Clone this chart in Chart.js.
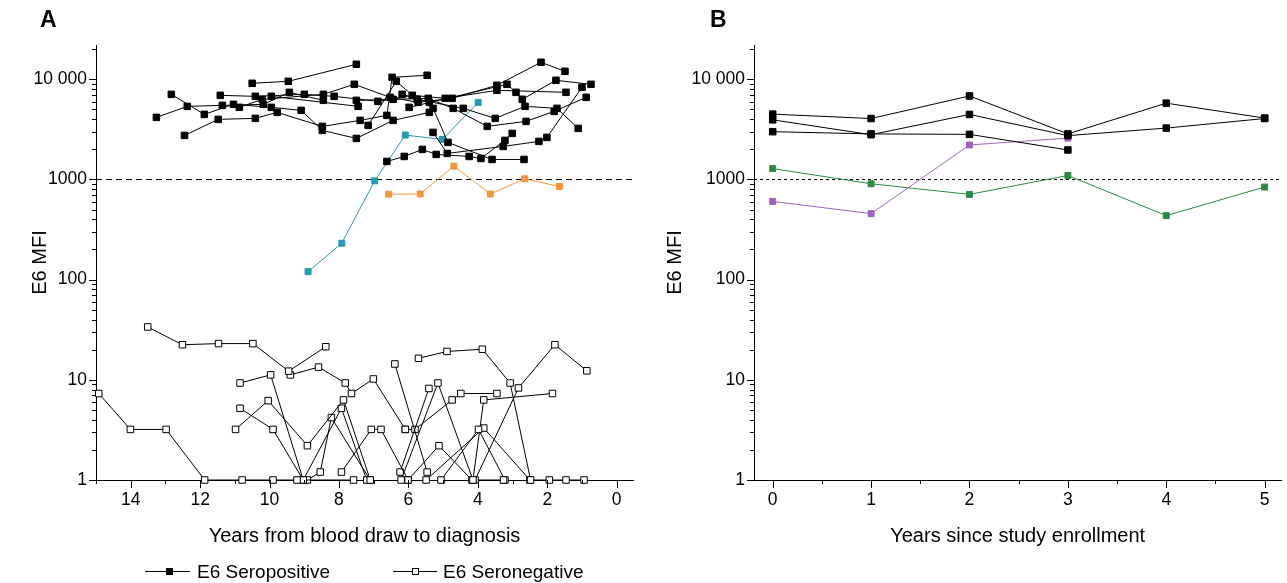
<!DOCTYPE html>
<html>
<head>
<meta charset="utf-8">
<script src="https://cdn.jsdelivr.net/npm/chart.js@4/dist/chart.umd.min.js"></script>
<style>
  body { margin: 0; background: #fff; font-family: Arial, "Liberation Sans", sans-serif; }
  #wrap { position: relative; width: 1287px; height: 583px; overflow: hidden; }
  canvas { position: absolute; top: 0; }
  .panel { position: absolute; top: 6px; font-weight: bold; font-size: 23px; }
  .leg-line { position: absolute; top: 571px; height: 0; border-top: 1px solid #000; }
  .leg-box { position: absolute; top: 568px; width: 7px; height: 7px; box-sizing: border-box; border: 1px solid #000; }
  .leg-text { position: absolute; top: 560px; font-size: 19px; line-height: 24px; }
</style>
</head>
<body>
<div id="wrap">
  <canvas id="chartA" width="640" height="583" style="left:0"></canvas>
  <canvas id="chartB" width="647" height="583" style="left:640px"></canvas>
  <div class="panel" style="left:40px">A</div>
  <div class="panel" style="left:710px">B</div>
  <div class="leg-line" style="left:145px;width:45px"></div>
  <div class="leg-box" style="left:166px;background:#000"></div>
  <div class="leg-text" style="left:197px">E6 Seropositive</div>
  <div class="leg-line" style="left:393px;width:44px"></div>
  <div class="leg-box" style="left:412px;background:#fff"></div>
  <div class="leg-text" style="left:443px">E6 Seronegative</div>
</div>
<script>
'use strict';

// ---- panel A: [years before diagnosis, E6 MFI] ----
const pos01 = [[13.26,4169],[12.37,5370],[11.36,5495],[10.18,5623],[9.43,7413],[8.45,6166]];
const pos02 = [[12.83,7079],[11.88,4467],[11.04,5623],[9.95,5248],[9.09,4898],[8.48,3090],[7.50,2570],[6.44,3890],[5.40,4677]];
const pos03 = [[12.45,2754],[11.48,3981],[10.41,4074],[9.78,4677],[8.48,3388],[7.39,3890],[6.62,4365],[6.47,10470],[5.46,10965]];
const pos04 = [[11.42,6918],[10.41,6761],[9.00,7079],[8.14,6761],[6.88,6026],[5.89,6918],[4.94,6457],[3.45,7762],[1.46,7413]];
const pos05 = [[10.50,9120],[9.46,9550],[7.50,14125]];
const pos06 = [[10.87,5248],[10.21,6310],[8.45,7079],[7.56,8913],[6.53,6607],[5.72,5888],[4.74,6457],[3.45,8710],[2.18,14790],[1.49,12020]];
const pos07 = [[7.50,6166],[6.44,6310],[5.43,6457],[4.71,5129],[3.73,3388],[2.61,3802],[1.80,4786],[0.88,6607]];
const pos08 = [[7.16,3467],[6.35,9550],[5.75,6310],[4.42,5129],[3.50,4074],[2.64,5370],[1.72,5129],[1.11,3236]];
const pos09 = [[6.62,1514],[6.12,1698],[5.60,1995],[5.20,1778],[4.25,1698],[3.91,1622],[3.22,2455],[3.01,2884]];
const pos10 = [[6.18,7079],[5.40,5888],[5.29,5129],[4.86,2344],[3.59,1585],[2.67,1585]];
const pos11 = [[5.29,2951],[4.88,1820],[3.27,2138],[2.24,2399],[2.01,2630],[1.00,8318]];
const pos12 = [[5.98,5248],[3.16,8913],[2.90,7413],[2.72,6310],[1.75,9772],[0.74,8913]];
const pos13 = [[9.95,6761],[7.45,5370]];
const tealA = [[8.89,120],[7.92,231],[6.97,970],[6.09,2775],[5.02,2512],[3.99,5890]];
const orangeA = [[6.57,713],[5.66,716],[4.69,1358],[3.64,716],[2.65,1016],[1.65,851]];

const neg01 = [[14.92,7.3],[14.01,3.2],[12.98,3.2],[11.87,1],[10.79,1],[9.90,1],[9.21,1]];
const neg02 = [[13.51,33.7],[12.51,22.4],[11.47,23],[10.48,23],[9.45,12.2],[8.38,21.4]];
const neg03 = [[10.85,9.3],[9.97,11.2],[9.03,1],[7.58,1]];
const neg04 = [[9.40,11.2],[8.59,13.4],[7.82,9.3],[7.64,7.3],[7.01,10.2],[6.09,3.2]];
const neg05 = [[10.98,3.2],[10.04,6.2],[8.91,2.2],[7.87,6.3],[7.10,1]];
const neg06 = [[10.85,5.2],[9.90,3.2],[9.03,1],[7.93,5.2],[7.20,1]];
const neg07 = [[8.91,1],[8.54,1.2],[8.22,4.2],[7.10,1]];
const neg08 = [[7.93,1.2],[7.07,3.2],[6.79,3.2],[6.01,1]];
const neg09 = [[6.39,14.4],[5.46,1.2]];
const neg10 = [[6.24,1.2],[5.41,8.2]];
const neg11 = [[6.21,1],[5.15,9.3],[4.14,1]];
const neg12 = [[6.09,3.2],[5.81,3.2],[4.74,6.3],[4.49,7.3],[3.45,7.3]];
const neg13 = [[5.71,16.4],[4.89,19.2],[3.87,20.2],[3.07,9.3],[2.48,1]];
const neg14 = [[4.08,1],[2.83,8.3],[1.78,22.4],[0.86,12.3]];
const neg15 = [[6.01,1],[5.12,2.2],[4.17,1],[3.26,1]];
const neg16 = [[5.06,1],[3.98,3.2],[3.22,1]];
const neg17 = [[5.49,1],[3.83,3.3],[2.50,1],[1.94,1],[1.46,1],[0.94,1]];
const neg18 = [[4.14,1],[3.83,6.3],[1.85,7.3]];

const positiveA = [pos01, pos02, pos03, pos04, pos05, pos06, pos07, pos08, pos09, pos10, pos11, pos12, pos13];
const negativeA = [neg01, neg02, neg03, neg04, neg05, neg06, neg07, neg08, neg09, neg10, neg11, neg12, neg13, neg14, neg15, neg16, neg17, neg18];

// ---- panel B: years since enrollment ----
const yearsB = [0, 1, 2, 3, 4, 5];
const blackB1 = [4490, 4060, 6820, 2850, 5780, 4100];
const blackB2 = [3940, 2800, 4460, 2740, 3260, 4060];
const blackB3 = [3000, 2850, 2820, 1970];
const purpleB = [604, 456, 2210, 2590];
const greenB = [1285, 906, 710, 1096, 436, 840];

// ---- axes ----
const cutoff = 1000;
const yLabels = [1, 10, 100, 1000, 10000];
const yMinor = [2,3,4,5,6,7,8,9,20,30,40,50,60,70,80,90,200,300,400,500,600,700,800,900,
  2000,3000,4000,5000,6000,7000,8000,9000,20000];
const xLabelsA = [14, 12, 10, 8, 6, 4, 2, 0];
const xMinorA = [15, 13, 11, 9, 7, 5, 3, 1];
const xLabelsB = [0, 1, 2, 3, 4, 5];
const xMinorB = [0.5, 1.5, 2.5, 3.5, 4.5];

Chart.defaults.font.family = 'Arial, "Liberation Sans", sans-serif';
Chart.defaults.color = '#000';

function series(points, color, fill, r) {
  return {
    data: points.map(p => ({ x: p[0], y: p[1] })),
    borderColor: color,
    backgroundColor: fill,
    pointBackgroundColor: fill,
    pointBorderColor: color,
    pointStyle: 'rect',
    pointRadius: r,
    pointBorderWidth: 1,
    borderWidth: 1,
    tension: 0,
    clip: false
  };
}

function pairs(xs, ys) {
  return ys.map((v, i) => [xs[i], v]);
}

// small ticks drawn outside the axes, minor ones shorter
const axisTicks = {
  id: 'axisTicks',
  afterDraw(chart, args, opts) {
    const ctx = chart.ctx;
    const a = chart.chartArea;
    const xs = chart.scales.x;
    const ys = chart.scales.y;
    ctx.save();
    ctx.strokeStyle = '#000';
    ctx.lineWidth = 1;
    ctx.beginPath();
    const xt = (v, len) => {
      const p = Math.round(xs.getPixelForValue(v)) + 0.5;
      ctx.moveTo(p, a.bottom); ctx.lineTo(p, a.bottom + len);
    };
    const yt = (v, len) => {
      const p = Math.round(ys.getPixelForValue(v)) + 0.5;
      ctx.moveTo(a.left, p); ctx.lineTo(a.left - len, p);
    };
    opts.xMajor.forEach(v => xt(v, 8));
    opts.xMinor.forEach(v => xt(v, 4));
    yLabels.forEach(v => yt(v, 7));
    yMinor.forEach(v => { if (v <= ys.max) yt(v, 4); });
    ctx.stroke();
    ctx.restore();
  }
};

const cutoffLine = {
  id: 'cutoffLine',
  beforeDatasetsDraw(chart, args, opts) {
    const ctx = chart.ctx;
    const a = chart.chartArea;
    const y = Math.round(chart.scales.y.getPixelForValue(cutoff)) + 0.5;
    ctx.save();
    ctx.strokeStyle = '#000';
    ctx.lineWidth = 1;
    ctx.setLineDash(opts.dash);
    ctx.beginPath();
    ctx.moveTo(a.left, y);
    ctx.lineTo(a.right, y);
    ctx.stroke();
    ctx.restore();
  }
};

function yAxis(width) {
  return {
    type: 'logarithmic',
    min: 1,
    max: 22000,
    border: { display: true, color: '#000', width: 1 },
    grid: { display: false, drawTicks: false },
    afterBuildTicks: s => { s.ticks = yLabels.map(v => ({ value: v })); },
    afterFit: s => { s.width = width; },
    ticks: {
      padding: 9,
      font: { size: 17.5 },
      callback: v => v === 10000 ? '10 000' : String(v)
    },
    title: { display: true, text: 'E6 MFI', font: { size: 20 }, padding: { top: 3, bottom: 4 } }
  };
}

function xAxis(min, max, labels, title, reverse) {
  return {
    type: 'linear',
    min: min,
    max: max,
    reverse: reverse,
    border: { display: true, color: '#000', width: 1 },
    grid: { display: false, drawTicks: false },
    afterBuildTicks: s => { s.ticks = labels.map(v => ({ value: v })); },
    afterFit: s => { s.height = 103; },
    ticks: { padding: 10, font: { size: 17.5 }, maxRotation: 0, autoSkip: false },
    title: { display: true, text: title, font: { size: 20 }, padding: { top: 4, bottom: 35 } }
  };
}

const black = '#000';
const dsA = [];
positiveA.forEach(p => dsA.push(series(p, black, black, 4.6)));
dsA.push(series(tealA, '#2499b5', '#2499b5', 4.2));
dsA.push(series(orangeA, '#f7953b', '#f7953b', 4.2));
negativeA.forEach(p => dsA.push(series(p, black, '#fff', 4.6)));

new Chart(document.getElementById('chartA'), {
  type: 'line',
  data: { datasets: dsA },
  plugins: [axisTicks, cutoffLine],
  options: {
    responsive: false,
    animation: false,
    devicePixelRatio: 1,
    layout: { padding: { left: 25, top: 45, right: 7, bottom: 0 } },
    plugins: {
      legend: { display: false },
      tooltip: { enabled: false },
      axisTicks: { xMajor: xLabelsA, xMinor: xMinorA },
      cutoffLine: { dash: [6, 4] }
    },
    scales: {
      x: xAxis(-0.47, 15, xLabelsA, 'Years from blood draw to diagnosis', true),
      y: yAxis(71)
    }
  }
});

const dsB = [
  series(pairs(yearsB, blackB1), black, black, 4.6),
  series(pairs(yearsB, blackB2), black, black, 4.6),
  series(pairs(yearsB, blackB3), black, black, 4.6),
  series(pairs(yearsB, purpleB), '#a062c2', '#a062c2', 4.2),
  series(pairs(yearsB, greenB), '#2a8a45', '#2a8a45', 4.2)
];

new Chart(document.getElementById('chartB'), {
  type: 'line',
  data: { datasets: dsB },
  plugins: [axisTicks, cutoffLine],
  options: {
    responsive: false,
    animation: false,
    devicePixelRatio: 1,
    layout: { padding: { left: 20, top: 45, right: 2, bottom: 0 } },
    plugins: {
      legend: { display: false },
      tooltip: { enabled: false },
      axisTicks: { xMajor: xLabelsB, xMinor: xMinorB },
      cutoffLine: { dash: [3, 3] }
    },
    scales: {
      x: xAxis(-0.19, 5.17, xLabelsB, 'Years since study enrollment', false),
      y: yAxis(94)
    }
  }
});
</script>
</body>
</html>
